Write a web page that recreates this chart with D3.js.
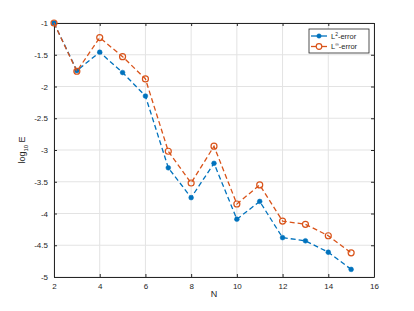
<!DOCTYPE html>
<html>
<head>
<meta charset="utf-8">
<script src="https://cdn.jsdelivr.net/npm/d3@7"></script>
<style>
  body { margin: 0; background: #fff; }
  svg { display: block; font-family: "Liberation Sans", Arial, sans-serif; }
</style>
</head>
<body>
<div class="container"></div>
<script>
// Size of the picture
const width = 414;
const height = 311;
const margin = {top: 23, right: 40, bottom: 34, left: 54};

// Data
const nValues = [2, 3, 4, 5, 6, 7, 8, 9, 10, 11, 12, 13, 14, 15];
const l2Error = [-1.0, -1.75, -1.46, -1.78, -2.15, -3.28, -3.75, -3.21, -4.09, -3.81, -4.38, -4.43, -4.61, -4.88];
const linfError = [-1.0, -1.76, -1.23, -1.53, -1.88, -3.02, -3.52, -2.94, -3.85, -3.55, -4.12, -4.17, -4.35, -4.62];
const xTicks = [2, 4, 6, 8, 10, 12, 14, 16];
const yTicks = [-1, -1.5, -2, -2.5, -3, -3.5, -4, -4.5, -5];

const blue = "#0072BD";
const orange = "#D95319";

const x = d3.scaleLinear().domain([2, 16]).range([margin.left, width - margin.right]);
const y = d3.scaleLinear().domain([-5, -1]).range([height - margin.bottom, margin.top]);

const svg = d3.select(".container").append("svg")
    .attr("width", width)
    .attr("height", height);

// grid lines
svg.append("g")
    .selectAll("line.vx")
    .data(xTicks)
    .enter().append("line")
    .attr("x1", d => x(d)).attr("x2", d => x(d))
    .attr("y1", y(-5)).attr("y2", y(-1))
    .attr("stroke", "#e3e3e3").attr("stroke-width", 1);
svg.append("g")
    .selectAll("line.hy")
    .data(yTicks)
    .enter().append("line")
    .attr("x1", x(2)).attr("x2", x(16))
    .attr("y1", d => y(d)).attr("y2", d => y(d))
    .attr("stroke", "#e3e3e3").attr("stroke-width", 1);

// axes (ticks point inward like MATLAB)
const axisColor = "#262626";
function styleAxis(g) {
  g.selectAll("path").attr("stroke", axisColor);
  g.selectAll("line").attr("stroke", axisColor);
  g.selectAll("text").attr("fill", axisColor).attr("font-size", 8);
}
svg.append("g")
    .attr("transform", `translate(0,${y(-5)})`)
    .call(d3.axisBottom(x).tickValues(xTicks).tickSizeInner(-3).tickSizeOuter(0).tickPadding(6))
    .call(styleAxis);
svg.append("g")
    .attr("transform", `translate(0,${y(-1)})`)
    .call(d3.axisTop(x).tickValues(xTicks).tickSizeInner(-3).tickSizeOuter(0).tickFormat(""))
    .call(styleAxis);
svg.append("g")
    .attr("transform", `translate(${x(2)},0)`)
    .call(d3.axisLeft(y).tickValues(yTicks).tickSizeInner(-3).tickSizeOuter(0).tickPadding(6)
      .tickFormat(d => String(d).replace("-", "-")))
    .call(styleAxis);
svg.append("g")
    .attr("transform", `translate(${x(16)},0)`)
    .call(d3.axisRight(y).tickValues(yTicks).tickSizeInner(-3).tickSizeOuter(0).tickFormat(""))
    .call(styleAxis);

// series
const line = d3.line().x((d, i) => x(nValues[i])).y(d => y(d));
function drawSeries(values, color, filled) {
  svg.append("path")
      .datum(values)
      .attr("d", line)
      .attr("fill", "none")
      .attr("stroke", color)
      .attr("stroke-width", 1.3)
      .attr("stroke-dasharray", "5,3");
  svg.append("g")
      .selectAll("circle")
      .data(values)
      .enter().append("circle")
      .attr("cx", (d, i) => x(nValues[i]))
      .attr("cy", d => y(d))
      .attr("r", filled ? 2.4 : 3)
      .attr("fill", filled ? color : "none")
      .attr("stroke", color)
      .attr("stroke-width", filled ? 0.5 : 1.2);
}
drawSeries(l2Error, blue, true);
drawSeries(linfError, orange, false);

// axis labels
svg.append("text")
    .attr("x", x(9))
    .attr("y", 297)
    .attr("text-anchor", "middle")
    .attr("font-size", 9)
    .attr("fill", axisColor)
    .text("N");

const yl = svg.append("text")
    .attr("transform", `translate(25,${y(-3)}) rotate(-90)`)
    .attr("text-anchor", "middle")
    .attr("font-size", 9)
    .attr("fill", axisColor);
yl.append("tspan").text("log");
yl.append("tspan").attr("font-size", 6).attr("dy", 2.5).text("10");
yl.append("tspan").attr("dy", -2.5).text(" E");

// legend
const legend = svg.append("g").attr("transform", "translate(309,29)");
legend.append("rect")
    .attr("width", 60).attr("height", 24)
    .attr("fill", "#fff").attr("stroke", axisColor).attr("stroke-width", 0.8);
const items = [
  {label: "2", color: blue, filled: true},
  {label: "\u221E", color: orange, filled: false}
];
items.forEach(function(d, i) {
  const yy = 7 + i * 10.5;
  legend.append("line")
      .attr("x1", 2).attr("x2", 18)
      .attr("y1", yy).attr("y2", yy)
      .attr("stroke", d.color).attr("stroke-width", 1.3);
  legend.append("circle")
      .attr("cx", 10).attr("cy", yy)
      .attr("r", d.filled ? 2.2 : 2.8)
      .attr("fill", d.filled ? d.color : "#fff")
      .attr("stroke", d.color).attr("stroke-width", d.filled ? 0.5 : 1.2);
  const t = legend.append("text")
      .attr("x", 22).attr("y", yy + 2.8)
      .attr("font-size", 7.5)
      .attr("fill", axisColor);
  t.append("tspan").text("L");
  t.append("tspan").attr("font-size", 5).attr("dy", -3).text(d.label);
  t.append("tspan").attr("dy", 3).text("-error");
});
</script>
</body>
</html>
